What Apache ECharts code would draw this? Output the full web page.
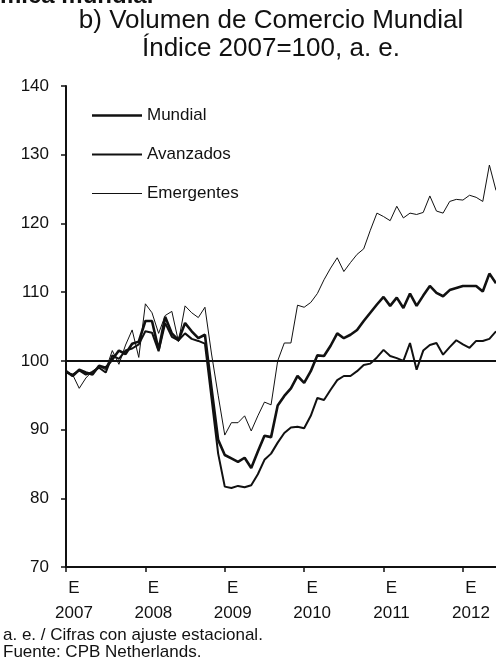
<!DOCTYPE html>
<html>
<head>
<meta charset="utf-8">
<script src="https://cdn.jsdelivr.net/npm/echarts@6/dist/echarts.min.js"></script>
<style>
  html, body { margin: 0; padding: 0; background: #fff; }
  #chart { width: 496px; height: 666px; }
</style>
</head>
<body>
<div id="chart"></div>
<script>
// ejes: meses ene-2007 .. jun-2012
const years = ['2007', '2008', '2009', '2010', '2011', '2012'];
const yTicks = [70, 80, 90, 100, 110, 120, 130, 140];

// índice 2007=100, cifras
const mundial = [
  98.5, 97.8, 98.7, 98.3, 98.0, 99.3, 99.0, 100.2, 101.5, 101.0, 102.5, 102.8,
  105.8, 105.8, 101.6, 106.4, 104.0, 103.0, 105.5, 104.3, 103.3, 103.8, 96.0, 88.5,
  86.3, 85.8, 85.3, 85.9, 84.4, 86.8, 89.1, 88.9, 93.5, 94.9, 96.0, 97.8,
  96.8, 98.5, 100.8, 100.7, 102.2, 104.0, 103.3, 103.8, 104.5, 105.8, 107.0, 108.2,
  109.3, 108.0, 109.2, 107.7, 109.8, 108.0, 109.5, 110.9, 109.9, 109.4, 110.3, 110.6,
  110.9, 110.9, 110.9, 110.1, 112.7, 111.3
];
const avanzados = [
  98.3, 98.0, 98.6, 98.0, 98.4, 99.0, 98.3, 100.8, 100.3, 101.5, 101.8, 102.4,
  104.3, 104.1, 101.4, 105.5, 103.5, 103.0, 104.0, 103.2, 102.9, 102.5, 94.5, 86.5,
  81.7, 81.5, 81.8, 81.6, 81.9, 83.5, 85.6, 86.5, 88.1, 89.5, 90.3, 90.4,
  90.2, 92.0, 94.6, 94.3, 95.8, 97.2, 97.8, 97.8, 98.5, 99.4, 99.6, 100.5,
  101.6, 100.7, 100.4, 100.0, 102.6, 98.7, 101.5, 102.3, 102.6, 100.9, 102.0, 103.0,
  102.4, 101.9, 102.9, 102.9, 103.2, 104.3
];
const emergentes = [
  98.5, 98.0, 96.0, 97.5, 98.5, 99.2, 98.7, 101.5, 99.5, 102.3, 104.5, 100.5,
  108.3, 107.0, 104.0, 106.6, 107.2, 102.8, 108.0, 107.0, 106.3, 107.8, 101.0, 95.0,
  89.2, 91.0, 91.0, 92.0, 89.8, 92.0, 94.0, 93.6, 100.0, 102.6, 102.6, 108.1,
  107.8, 108.5, 109.8, 111.8, 113.5, 115.0, 113.0, 114.3, 115.5, 116.3, 119.0, 121.5,
  121.0, 120.4, 122.5, 120.8, 121.5, 121.3, 121.6, 124.0, 121.8, 121.5, 123.2, 123.5,
  123.4, 124.1, 123.8, 123.2, 128.5, 124.8
];

const months = [];
years.forEach(function (y) {
  for (let m = 1; m <= 12; m++) {
    if (months.length < mundial.length) months.push(y + '-' + (m < 10 ? '0' + m : m));
  }
});

const font = 'Liberation Sans, Arial, sans-serif';
const chart = echarts.init(document.getElementById('chart'), null, { renderer: 'canvas' });

const option = {
  backgroundColor: '#fff',
  animation: false,
  textStyle: { fontFamily: font, color: '#111' },
  title: {
    text: 'b) Volumen de Comercio Mundial\nÍndice 2007=100, a. e.',
    left: 271,
    top: 7,
    textAlign: 'center',
    padding: 0,
    textStyle: {
      fontFamily: font,
      fontSize: 26,
      fontWeight: 'normal',
      lineHeight: 28,
      color: '#111'
    }
  },
  graphic: [
    {
      // resto del título del panel superior, cortado en el borde
      type: 'text',
      left: 0,
      top: -16,
      style: {
        text: 'mica mundial',
        font: 'bold 24px ' + font,
        fill: '#111'
      }
    },
    {
      type: 'text',
      left: 3,
      top: 627,
      style: {
        text: 'a. e. / Cifras con ajuste estacional.\nFuente: CPB Netherlands.',
        font: '17px ' + font,
        lineHeight: 17,
        fill: '#111'
      }
    }
  ],
  legend: {
    orient: 'vertical',
    left: 92,
    top: 107,
    padding: 0,
    itemWidth: 50,
    itemHeight: 17,
    itemGap: 22,
    data: [
      { name: 'Mundial', icon: 'path://M0,0H50V2.6H0Z' },
      { name: 'Avanzados', icon: 'path://M0,0H50V2H0Z' },
      { name: 'Emergentes', icon: 'path://M0,0H50V1H0Z' }
    ],
    textStyle: { fontFamily: font, fontSize: 17, color: '#111', lineHeight: 17 }
  },
  grid: {
    left: 66,
    right: 0,
    top: 86,
    bottom: 99,
    containLabel: false
  },
  xAxis: {
    type: 'category',
    data: months,
    boundaryGap: false,
    axisLine: { show: true, lineStyle: { color: '#111', width: 2 } },
    axisTick: {
      show: true,
      length: 5,
      interval: function (index) { return index % 12 === 0; },
      lineStyle: { color: '#111', width: 1.5 }
    },
    axisLabel: {
      interval: function (index) { return index % 12 === 0; },
      formatter: function (val) { return 'E\n' + val.slice(0, 4); },
      fontFamily: font,
      fontSize: 17,
      lineHeight: 25,
      margin: 9,
      padding: [0, 0, 0, 16],
      color: '#111'
    },
    splitLine: { show: false }
  },
  yAxis: {
    type: 'value',
    min: yTicks[0],
    max: yTicks[yTicks.length - 1],
    interval: 10,
    axisLine: { show: true, lineStyle: { color: '#111', width: 2 } },
    axisTick: { show: true, length: 5, lineStyle: { color: '#111', width: 1.5 } },
    axisLabel: { fontFamily: font, fontSize: 17, margin: 17, color: '#111' },
    splitLine: { show: false }
  },
  series: [
    {
      name: 'Mundial',
      type: 'line',
      data: mundial,
      symbol: 'none',
      lineStyle: { color: '#111', width: 2.6 },
      itemStyle: { color: '#111' },
      z: 3,
      markLine: {
        silent: true,
        symbol: 'none',
        label: { show: false },
        lineStyle: { color: '#111', width: 2, type: 'solid' },
        data: [{ yAxis: 100 }]
      }
    },
    {
      name: 'Avanzados',
      type: 'line',
      data: avanzados,
      symbol: 'none',
      lineStyle: { color: '#111', width: 2 },
      itemStyle: { color: '#111' },
      z: 2
    },
    {
      name: 'Emergentes',
      type: 'line',
      data: emergentes,
      symbol: 'none',
      lineStyle: { color: '#111', width: 1 },
      itemStyle: { color: '#111' },
      z: 1
    }
  ]
};

chart.setOption(option);
</script>
</body>
</html>
